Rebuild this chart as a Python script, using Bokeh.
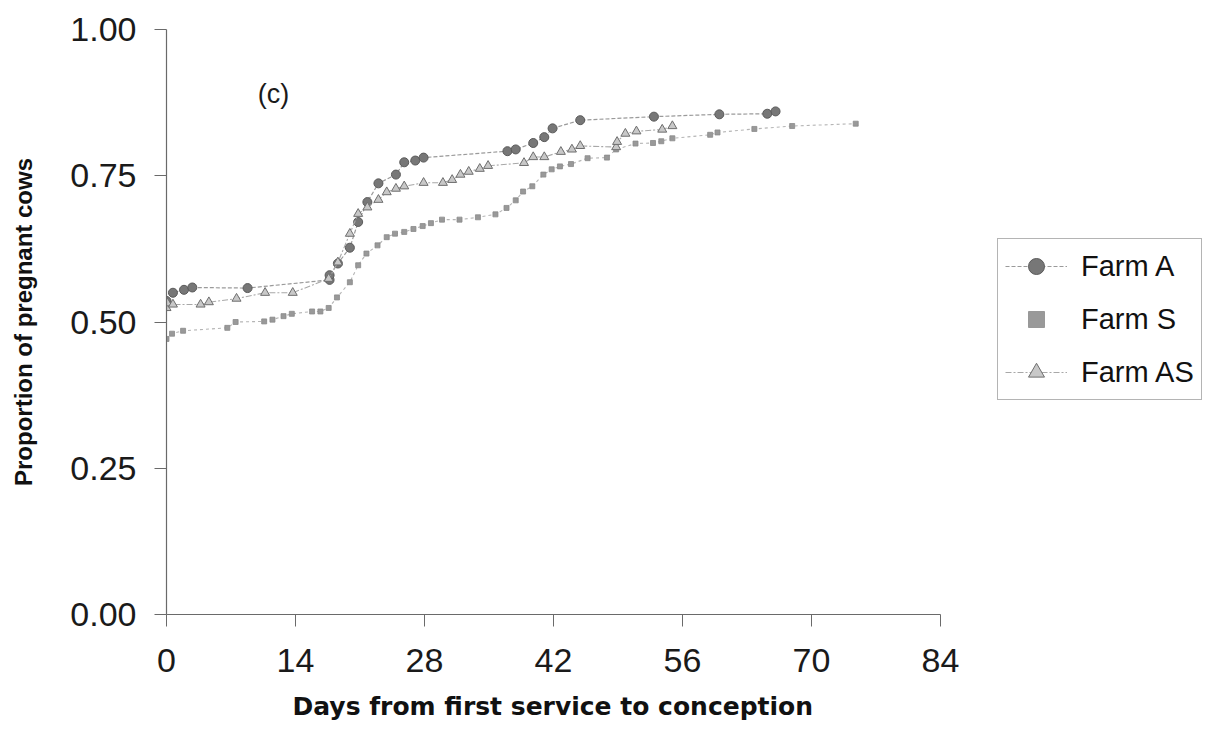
from bokeh.plotting import figure
from bokeh.models import Range1d, FixedTicker, Legend, LegendItem, Label, Title, NumeralTickFormatter
from bokeh.embed import file_html
from bokeh.resources import INLINE

# Cumulative proportion of pregnant cows by days from first service
days_a = [0.0, 0.7, 1.9, 2.8, 8.8, 17.7, 17.7, 18.6, 19.9, 20.8, 21.8, 23.0, 24.9,
          25.8, 27.0, 27.9, 37.0, 37.9, 39.8, 41.0, 41.9, 44.9, 52.9, 60.0, 65.2, 66.1]
prop_a = [0.536, 0.550, 0.555, 0.559, 0.558, 0.572, 0.580, 0.600, 0.627, 0.671, 0.705,
          0.737, 0.752, 0.773, 0.776, 0.781, 0.792, 0.795, 0.806, 0.816, 0.831, 0.845,
          0.851, 0.855, 0.856, 0.860]

days_s = [0.0, 0.6, 1.8, 6.6, 7.5, 10.6, 11.5, 12.7, 13.6, 15.8, 16.7, 17.6, 18.5,
          19.9, 20.8, 21.7, 22.9, 23.9, 24.8, 25.8, 26.8, 27.8, 28.7, 29.9, 31.8,
          33.8, 35.7, 36.9, 37.9, 38.7, 39.7, 40.9, 41.8, 42.7, 43.9, 45.7, 47.8,
          48.8, 50.9, 52.8, 53.7, 54.9, 59.0, 59.8, 63.8, 67.9, 74.8]
prop_s = [0.471, 0.480, 0.485, 0.490, 0.500, 0.501, 0.504, 0.510, 0.514, 0.518,
          0.518, 0.524, 0.542, 0.568, 0.597, 0.617, 0.631, 0.645, 0.651, 0.654,
          0.659, 0.664, 0.669, 0.675, 0.675, 0.679, 0.684, 0.695, 0.708, 0.723,
          0.732, 0.752, 0.761, 0.766, 0.770, 0.780, 0.781, 0.795, 0.805, 0.806,
          0.809, 0.814, 0.820, 0.824, 0.830, 0.835, 0.839]

days_as = [0.0, 0.1, 0.7, 3.7, 4.6, 7.6, 10.7, 13.7, 17.6, 18.6, 19.9, 20.8, 21.8,
           23.0, 23.9, 24.9, 25.8, 27.9, 30.0, 31.0, 31.9, 32.8, 34.0, 34.9, 38.8,
           39.8, 41.0, 42.8, 44.0, 44.9, 48.8, 48.9, 49.8, 51.0, 53.8, 54.9]
prop_as = [0.524, 0.532, 0.530, 0.530, 0.534, 0.540, 0.550, 0.550, 0.574, 0.602,
           0.651, 0.685, 0.696, 0.709, 0.722, 0.728, 0.732, 0.738, 0.738, 0.743,
           0.752, 0.757, 0.762, 0.767, 0.772, 0.782, 0.782, 0.791, 0.795, 0.801,
           0.799, 0.808, 0.822, 0.826, 0.829, 0.835]

x_ticks = [0, 14, 28, 42, 56, 70, 84]
y_ticks = [0.0, 0.25, 0.50, 0.75, 1.00]

FONT = "Liberation Sans"

# The axis runs 0-84 days over 774 px; the frame continues to the right edge
# (no grid or outline) so the legend can sit beside the drawn axis.
W, H = 1218, 737
LEFT, TOP, BOTTOM = 166, 29, 123
AXIS_PX = 774
x_end = x_ticks[-1] * (W - LEFT) / AXIS_PX

p = figure(width=W, height=H, output_backend="svg", toolbar_location=None,
           x_range=Range1d(0, x_end), y_range=Range1d(0, 1),
           min_border_left=LEFT, min_border_right=0,
           min_border_top=TOP, min_border_bottom=BOTTOM)
p.outline_line_color = None
p.xgrid.visible = False
p.ygrid.visible = False
p.background_fill_color = "white"
p.border_fill_color = "white"

for ax in (p.xaxis[0], p.yaxis[0]):
    ax.axis_line_color = "#6a6a6a"
    ax.axis_line_width = 1.2
    ax.major_tick_line_color = "#6a6a6a"
    ax.major_tick_out = 12
    ax.major_tick_in = 0
    ax.minor_tick_line_color = None
    ax.major_label_text_font = FONT
    ax.major_label_text_font_size = "34px"
    ax.major_label_text_color = "#1a1a1a"
    ax.axis_label_text_font_style = "bold"
    ax.axis_label_text_color = "#111111"

p.xaxis.bounds = (0, x_ticks[-1])
p.xaxis.ticker = FixedTicker(ticks=x_ticks)
p.yaxis.ticker = FixedTicker(ticks=y_ticks)
p.yaxis.formatter = NumeralTickFormatter(format="0.00")
p.xaxis.major_label_standoff = 22
p.yaxis.major_label_standoff = 18

p.yaxis.axis_label = "Proportion of pregnant cows"
p.yaxis.axis_label_text_font = FONT
p.yaxis.axis_label_text_font_size = "24px"
p.yaxis.axis_label_standoff = 30

# x-axis caption, centred under the 0-84 day axis rather than the wider frame
p.add_layout(Title(text="Days from first service to conception", align="left",
                   offset=126, text_font="DejaVu Sans", text_font_size="25px",
                   text_font_style="bold", text_color="#111111", standoff=30),
             "below")

# Farm A: dotted line with filled circles
la = p.line(days_a, prop_a, line_color="#9a9a9a", line_width=1.2, line_dash="4 2")
ma = p.scatter(days_a, prop_a, marker="circle", size=9, fill_color="#777777",
               line_color="#5a5a5a", line_width=1)

# Farm S: dashed line with small squares
ls = p.line(days_s, prop_s, line_color="#b5b5b5", line_width=1.1, line_dash="3 3")
ms = p.scatter(days_s, prop_s, marker="square", size=5, fill_color="#999999",
               line_color="#8a8a8a", line_width=0.8)

# Farm AS: dash-dot line with open triangles
las = p.line(days_as, prop_as, line_color="#a8a8a8", line_width=1.1, line_dash="6 2 2 2")
mas = p.scatter(days_as, prop_as, marker="triangle", size=9, fill_color="#c8c8c8",
                line_color="#6e6e6e", line_width=1)

p.add_layout(Label(x=11.6, y=0.889, text="(c)", text_font=FONT, text_font_size="27px",
                   text_color="#1a1a1a", text_align="center", text_baseline="middle"))

legend = Legend(items=[LegendItem(label="Farm A", renderers=[la, ma]),
                       LegendItem(label="Farm S", renderers=[ms]),
                       LegendItem(label="Farm AS", renderers=[las, mas])],
                location=(831, 214))
legend.label_text_font = FONT
legend.label_text_font_size = "29px"
legend.label_text_color = "#111111"
legend.glyph_width = 62
legend.glyph_height = 40
legend.label_height = 40
legend.label_standoff = 14
legend.spacing = 13
legend.padding = 7
legend.margin = 0
legend.border_line_color = "#6a6a6a"
legend.border_line_width = 1
legend.background_fill_color = "white"
legend.background_fill_alpha = 1
p.add_layout(legend, "center")

open("out.html", "w").write(file_html(p, INLINE))
